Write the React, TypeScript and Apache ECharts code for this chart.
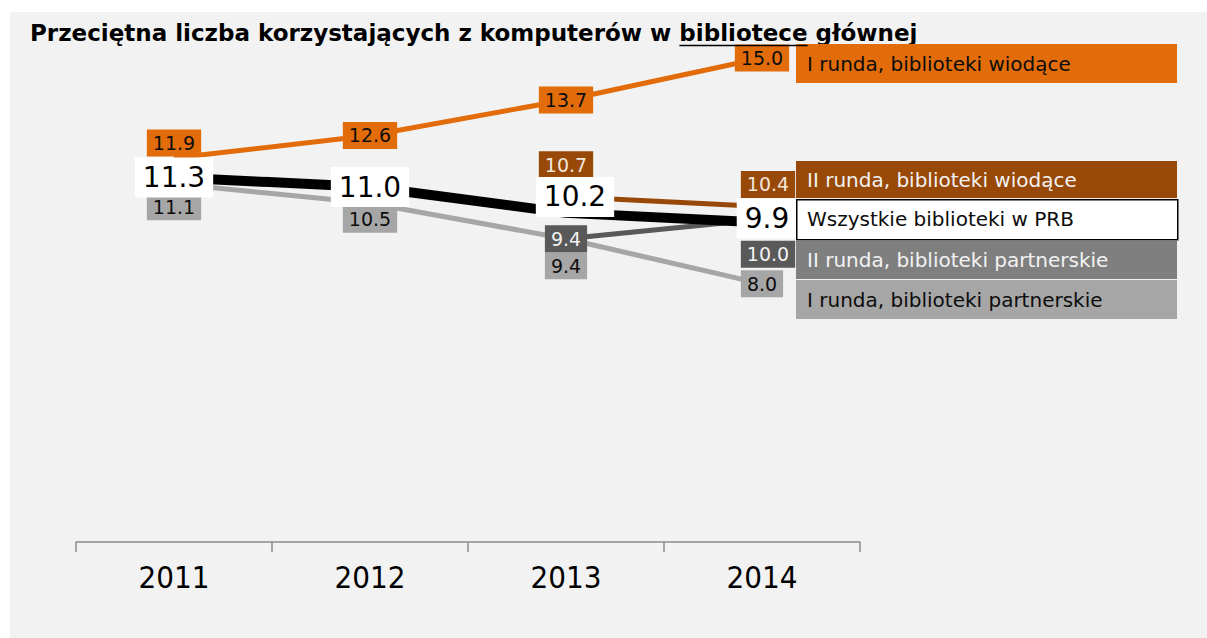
import React, { useEffect, useRef } from "react";
import * as echarts from "echarts";

const years = ["2011", "2012", "2013", "2014"];
const seriesNames = [
  "I runda, biblioteki wiodące",
  "II runda, biblioteki wiodące",
  "Wszystkie biblioteki w PRB",
  "II runda, biblioteki partnerskie",
  "I runda, biblioteki partnerskie",
];
const iWiodace = [11.9, 12.6, 13.7, 15.0];
const iiWiodace = [null, null, 10.7, 10.4];
const wszystkie = [11.3, 11.0, 10.2, 9.9];
const iiPartnerskie = [null, null, 9.4, 10.0];
const iPartnerskie = [11.1, 10.5, 9.4, 8.0];

const titlePre = "Przeciętna liczba korzystających z komputerów w ";
const titleU = "bibliotece";
const titlePost = " głównej";

// label offsets (px) relative to each point
const offIW = [[0, -15], [0, 0], [0, 0], [0, 0]];
const offIIW = [null, null, [0, -32], [6, -22]];
const offAll = [[0, 0], [0, 0], [9, -16], [5, -4]];
const offIIP = [null, null, [0, 0], [6, 35]];
const offIP = [[0, 23], [0, 16], [0, 27], [0, 0]];

const ORANGE = "#E36C0A";
const BROWN = "#984807";
const DARK = "#595959";
const LEGDARK = "#7F7F7F";
const LIGHT = "#A6A6A6";
const FONT = '"DejaVu Sans", Verdana, sans-serif';

function mk(name: string, values: (number | null)[], offsets: any[], color: string, width: number, lbl: any, z: number) {
  return {
    type: "line",
    name,
    z,
    data: values.map((v, i) => (v == null ? "-" : { value: v, label: { offset: offsets[i] } })),
    lineStyle: { color, width },
    itemStyle: { color },
    symbol: "circle",
    symbolSize: 1,
    showSymbol: true,
    label: {
      show: true,
      position: "inside",
      fontFamily: FONT,
      formatter: (p: any) => Number(p.value).toFixed(1),
      ...lbl,
    },
    emphasis: { disabled: true },
  };
}

const small = (bg: string, fg: string) => ({
  backgroundColor: bg,
  color: fg,
  fontSize: 19,
  lineHeight: 22,
  padding: [3, 6, 2, 6],
});

export default function App() {
  const ref = useRef<HTMLDivElement>(null);
  useEffect(() => {
    if (!ref.current) return;
    const chart = echarts.init(ref.current, null, { renderer: "svg" });
    const titleSize = 23;
    const titleFont = `bold ${titleSize}px "DejaVu Sans"`;
    const ctx = document.createElement("canvas").getContext("2d")!;
    ctx.font = titleFont;
    const preW = ctx.measureText(titlePre).width;
    const uW = ctx.measureText(titleU).width;
    const titleLeft = 20;

    const legendRows = [
      { name: seriesNames[0], y: 32, h: 39, bg: ORANGE, fg: "#0d0d0d", stroke: null },
      { name: seriesNames[1], y: 149, h: 37, bg: BROWN, fg: "#f2f2f2", stroke: null },
      { name: seriesNames[2], y: 187, h: 40, bg: "#ffffff", fg: "#0d0d0d", stroke: "#000" },
      { name: seriesNames[3], y: 229, h: 38, bg: LEGDARK, fg: "#f2f2f2", stroke: null },
      { name: seriesNames[4], y: 268, h: 39, bg: LIGHT, fg: "#0d0d0d", stroke: null },
    ];
    const graphic: any[] = [];
    legendRows.forEach((r) => {
      graphic.push({
        type: "rect",
        left: 786,
        top: r.y,
        shape: { width: 381, height: r.h },
        style: { fill: r.bg, stroke: r.stroke || undefined, lineWidth: r.stroke ? 1.5 : 0 },
        z: 10,
      });
      graphic.push({
        type: "text",
        x: 797,
        y: r.y + r.h / 2,
        style: { text: r.name, fill: r.fg, font: '20px "DejaVu Sans"', verticalAlign: "middle", align: "left" },
        z: 11,
      });
    });
    graphic.push({
      type: "line",
      shape: { x1: titleLeft + preW, y1: 33.5, x2: titleLeft + preW + uW, y2: 33.5 },
      style: { stroke: "#000", lineWidth: 1.5 },
      z: 10,
    });

    chart.setOption({
      animation: false,
      backgroundColor: "#f2f2f2",
      title: {
        text: titlePre + titleU + titlePost,
        left: titleLeft,
        top: 8,
        padding: 0,
        textStyle: { fontFamily: "DejaVu Sans", fontWeight: "bold", fontSize: titleSize, color: "#000", lineHeight: 26 },
      },
      grid: { left: 66, top: 46, width: 784, height: 484 },
      xAxis: {
        type: "category",
        data: years,
        boundaryGap: true,
        axisLine: { lineStyle: { color: "#8c8c8c", width: 1.5 } },
        axisTick: { show: true, length: 10, lineStyle: { color: "#8c8c8c", width: 1.5 } },
        axisLabel: {
          fontFamily: '"DejaVu Sans Condensed", "DejaVu Sans", sans-serif',
          fontSize: 31,
          color: "#000",
          margin: 19,
        },
      },
      yAxis: { type: "value", min: 0, max: 15, show: false, splitLine: { show: false } },
      series: [
        mk(seriesNames[4], iPartnerskie, offIP, LIGHT, 5, small(LIGHT, "#0d0d0d"), 2),
        mk(seriesNames[3], iiPartnerskie, offIIP, DARK, 5, small(DARK, "#f2f2f2"), 3),
        mk(seriesNames[1], iiWiodace, offIIW, BROWN, 5, small(BROWN, "#f2e6dc"), 4),
        mk(seriesNames[0], iWiodace, offIW, ORANGE, 5, small(ORANGE, "#0d0d0d"), 5),
        mk(seriesNames[2], wszystkie, offAll, "#000000", 10, {
          backgroundColor: "#ffffff",
          color: "#000",
          fontSize: 28,
          lineHeight: 34,
          padding: [3, 8, 3, 8],
        }, 6),
      ],
      graphic,
    });
    return () => chart.dispose();
  }, []);
  return (
    <div
      ref={ref}
      style={{ position: "fixed", left: 10, top: 12, right: 0, bottom: 0, width: 1197, height: 626 }}
    />
  );
}
